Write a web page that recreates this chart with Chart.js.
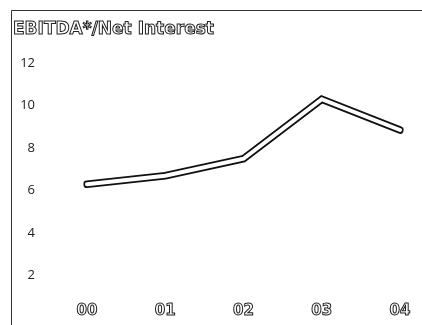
<!DOCTYPE html>
<html><head><meta charset="utf-8">
<script src="https://cdn.jsdelivr.net/npm/chart.js@4.4.1/dist/chart.umd.min.js"></script>
<style>html,body{margin:0;padding:0;background:#fff}#wrap{width:422px;height:325px}</style>
</head><body><div id="wrap"><canvas id="c" width="422" height="325"></canvas></div>
<script>
const titleText = "EBITDA*/Net Interest";
const categories = ["00", "01", "02", "03", "04"];
const values = [6.3, 6.7, 7.5, 10.3, 8.85];
const yTicks = [2, 4, 6, 8, 10, 12];

const framePlugin = {
  id: 'frame',
  beforeDraw(chart) {
    const ctx = chart.ctx;
    ctx.save();
    ctx.strokeStyle = '#333';
    ctx.lineWidth = 1;
    ctx.beginPath();
    ctx.moveTo(11.5, 325); ctx.lineTo(11.5, 10.5); ctx.lineTo(422, 10.5);
    ctx.stroke();
    ctx.restore();
  },
  afterDraw(chart) {
    const ctx = chart.ctx;
    ctx.save();
    ctx.lineWidth = 1;
    ctx.strokeStyle = '#222';
    ctx.fillStyle = '#fff';
    ctx.font = 'bold 17px "DejaVu Sans"';
    ctx.textBaseline = 'middle';
    ctx.textAlign = 'left';
    ctx.fillText(titleText, 13, 30);
    ctx.strokeText(titleText, 13, 30);
    const xs = chart.scales.x;
    ctx.textAlign = 'center';
    ctx.font = 'bold 15px "DejaVu Sans"';
    categories.forEach((c, i) => {
      const px = xs.getPixelForValue(i);
      ctx.fillText(c, px, 311);
      ctx.strokeText(c, px, 311);
    });
    ctx.restore();
  }
};

new Chart(document.getElementById('c'), {
  type: 'line',
  data: {
    labels: categories,
    datasets: [
      { data: values, borderColor: '#fff', borderWidth: 4, pointRadius: 0, tension: 0, borderCapStyle: 'round', borderJoinStyle: 'miter' },
      { data: values, borderColor: '#111', borderWidth: 7.5, pointRadius: 0, tension: 0, borderCapStyle: 'round', borderJoinStyle: 'miter' }
    ]
  },
  options: {
    responsive: false,
    animation: false,
    layout: { padding: { top: 63, right: 22, bottom: 0, left: 0 } },
    plugins: { legend: { display: false }, tooltip: { enabled: false }, title: { display: false } },
    scales: {
      x: {
        afterFit: (s) => { s.height = 28; },
        grid: { display: false, drawTicks: false },
        border: { display: false },
        ticks: { color: 'rgba(0,0,0,0)', font: { size: 15, family: 'DejaVu Sans' }, padding: 8, maxRotation: 0 }
      },
      y: {
        min: 1, max: 12,
        afterBuildTicks: (s) => { s.ticks = yTicks.map(v => ({ value: v })); },
        afterFit: (s) => { s.width = 87; },
        grid: { drawOnChartArea: false, drawTicks: true, tickLength: 52, tickColor: 'rgba(0,0,0,0)' },
        border: { display: false },
        ticks: { color: '#222', font: { size: 13, family: 'Open Sans' }, padding: 0 }
      }
    }
  },
  plugins: [framePlugin]
});
</script></body></html>
